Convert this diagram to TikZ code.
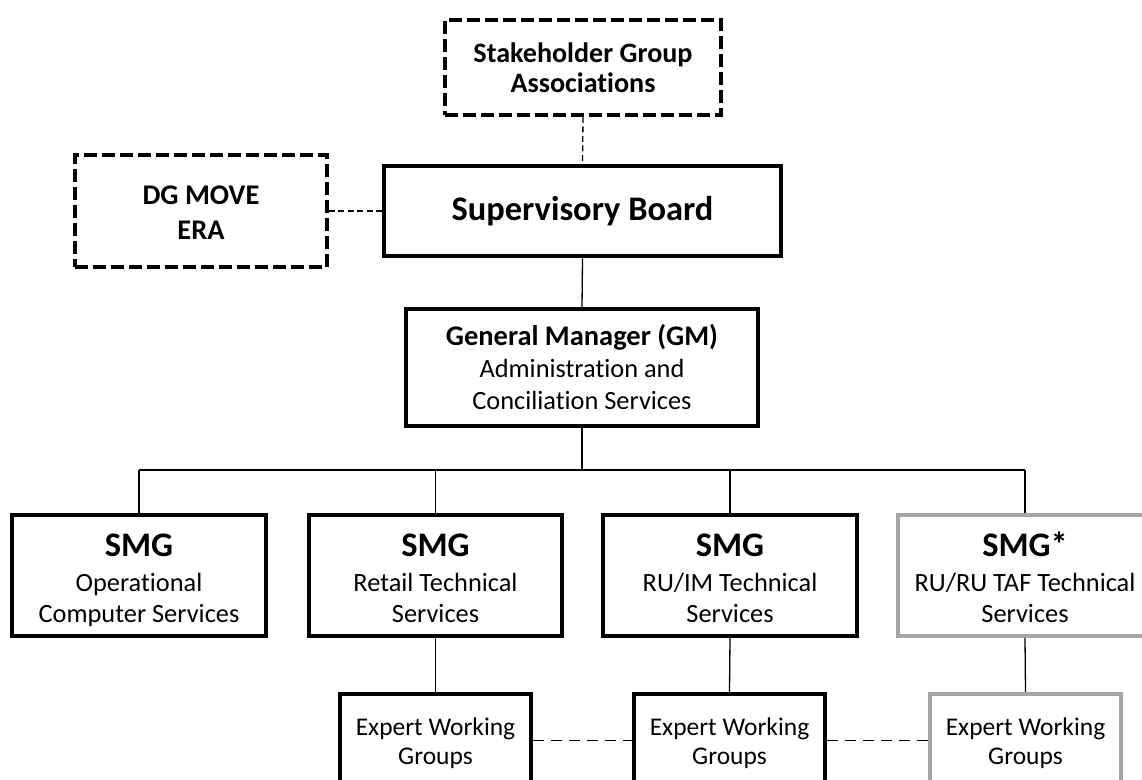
\documentclass[tikz,border=0pt]{standalone}
\usepackage{fontspec}
\setmainfont{Carlito}[Ligatures=NoCommon]
\definecolor{palegrey}{HTML}{A6A6A6}
\newcommand{\smghead}[1]{{\bfseries\fontsize{19.6}{20}\selectfont\rule{0pt}{18.3pt}#1}}

\begin{document}
\begin{tikzpicture}[x=0.02cm,y=-0.02cm,
    box/.style={draw,rectangle,line width=0.08cm,inner sep=0pt,align=center},
    dashbox/.style={box,dash pattern=on 0.26cm off 0.1cm},
    greybox/.style={box,draw=palegrey},
    smgbox/.style={minimum width=5.08cm,minimum height=2.42cm,font=\fontsize{15}{17.6}\selectfont},
    ewgbox/.style={minimum width=3.82cm,minimum height=1.86cm,font=\fontsize{14.5}{16.5}\selectfont},
    link/.style={line width=0.026cm},
    dlink/.style={link,dash pattern=on 0.12cm off 0.07cm},
    ewglink/.style={link,dash pattern=on 0.22cm off 0.14cm}]
    \clip (0,0) rectangle (1142,780);
    % Top level
    \node[dashbox,minimum width=5.52cm,minimum height=1.9cm,
      font=\fontsize{16}{17}\selectfont\bfseries] (sga) at (583,67.5)
      {Stakeholder Group\\Associations};
    \node[dashbox,minimum width=5.04cm,minimum height=2.24cm,
      font=\fontsize{16.2}{20}\selectfont\bfseries] (dg) at (201,211)
      {\rule{0pt}{13pt}DG MOVE\\ERA};
    \node[box,minimum width=7.94cm,minimum height=1.82cm,
      font=\fontsize{19.6}{22}\selectfont\bfseries] (sb) at (582.5,211)
      {Supervisory Board};
    \node[box,minimum width=7.04cm,minimum height=2.34cm,
      font=\fontsize{15}{18.2}\selectfont] (gm) at (582,367.5)
      {{\bfseries\fontsize{16.2}{18.2}\selectfont General Manager (GM)}\\
       Administration and\\Conciliation Services};
    % SMG row
    \node[box,smgbox] (smg1) at (139,575.5)
      {\smghead{SMG}\\[2pt]Operational\\Computer Services};
    \node[box,smgbox] (smg2) at (435.5,575.5)
      {\smghead{SMG}\\[2pt]Retail Technical\\Services\vphantom{p}};
    \node[box,smgbox] (smg3) at (730,575.5)
      {\smghead{SMG}\\[2pt]RU/IM Technical\\Services\vphantom{p}};
    \node[greybox,smgbox] (smg4) at (1025,575.5)
      {\smghead{SMG*}\\[2pt]RU/RU TAF Technical\\Services\vphantom{p}};
    % Expert working groups
    \node[box,ewgbox] (ewg1) at (435.5,740.5) {\rule{0pt}{13.6pt}Expert Working\\Groups};
    \node[box,ewgbox] (ewg2) at (729.5,740.5) {\rule{0pt}{13.6pt}Expert Working\\Groups};
    \node[greybox,ewgbox] (ewg3) at (1025.5,740.5) {\rule{0pt}{13.6pt}Expert Working\\Groups};
    % Connectors
    \draw[dlink] (sga.south) -- (sb.north);
    \draw[dlink] (dg.east) -- (sb.west);
    \draw[link] (sb.south) -- (gm.north);
    \coordinate (busL) at (139,470);
    \coordinate (busR) at (1025,470);
    \draw[link] (busL) -- (busR);
    \draw[link] (gm.south) -- (gm.south |- busL);
    \foreach \s in {smg1,smg2,smg3,smg4} {
      \draw[link] (\s.north) -- (\s.north |- busL);
    }
    \foreach \s/\e in {smg2/ewg1,smg3/ewg2,smg4/ewg3} {
      \draw[link] (\s.south) -- (\e.north);
    }
    \draw[ewglink] (ewg1.east) -- (ewg2.west);
    \draw[ewglink] (ewg2.east) -- (ewg3.west);
\end{tikzpicture}
\end{document}
